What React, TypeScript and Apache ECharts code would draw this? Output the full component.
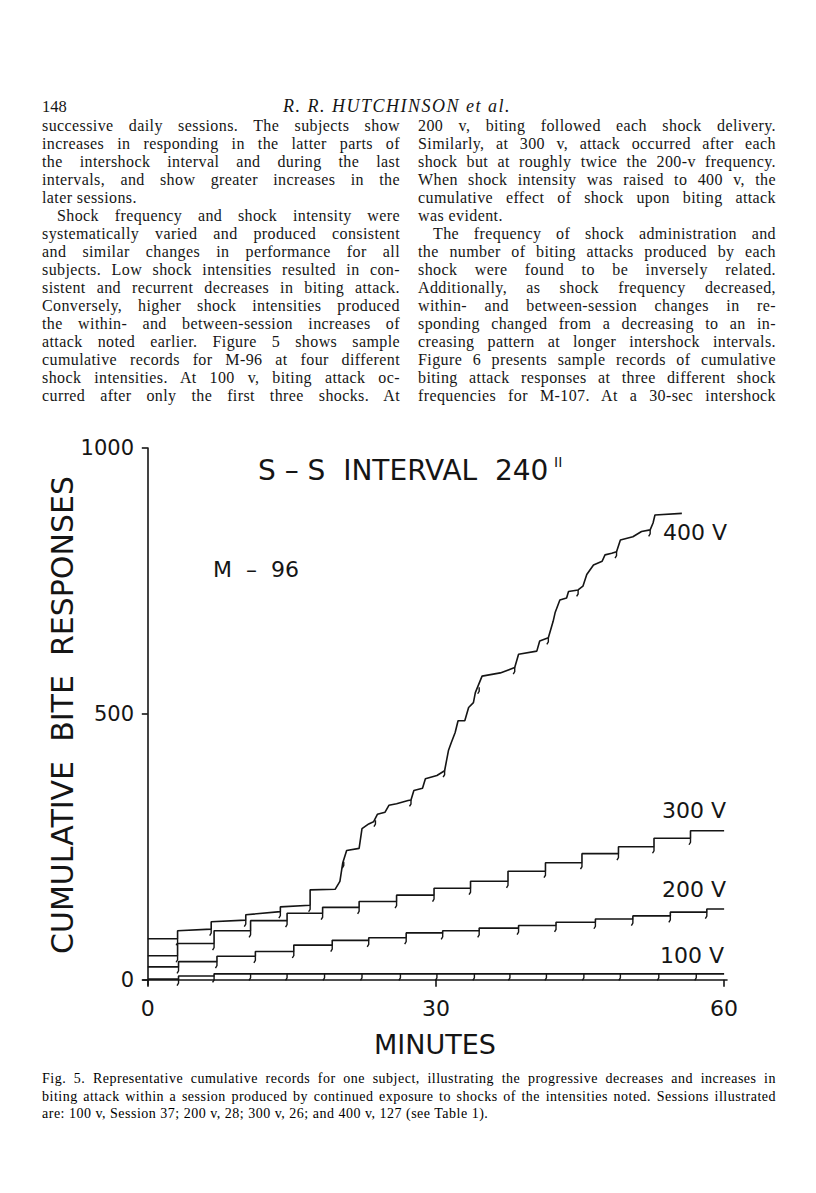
import React, { useEffect, useRef } from "react";
import * as echarts from "echarts";

// ---------- page text ----------
const PAGE_NUMBER = "148";
const RUNNING_HEAD = "R. R. HUTCHINSON et al.";
const LEFT_COL = [
  "successive daily sessions. The subjects show",
  "increases in responding in the latter parts of",
  "the intershock interval and during the last",
  "intervals, and show greater increases in the",
  "later sessions.",
  "Shock frequency and shock intensity were",
  "systematically varied and produced consistent",
  "and similar changes in performance for all",
  "subjects. Low shock intensities resulted in con-",
  "sistent and recurrent decreases in biting attack.",
  "Conversely, higher shock intensities produced",
  "the within- and between-session increases of",
  "attack noted earlier. Figure 5 shows sample",
  "cumulative records for M-96 at four different",
  "shock intensities. At 100 v, biting attack oc-",
  "curred after only the first three shocks. At",
];
const LEFT_INDENT = [5];
const LEFT_LAST = [4];
const RIGHT_COL = [
  "200 v, biting followed each shock delivery.",
  "Similarly, at 300 v, attack occurred after each",
  "shock but at roughly twice the 200-v frequency.",
  "When shock intensity was raised to 400 v, the",
  "cumulative effect of shock upon biting attack",
  "was evident.",
  "The frequency of shock administration and",
  "the number of biting attacks produced by each",
  "shock were found to be inversely related.",
  "Additionally, as shock frequency decreased,",
  "within- and between-session changes in re-",
  "sponding changed from a decreasing to an in-",
  "creasing pattern at longer intershock intervals.",
  "Figure 6 presents sample records of cumulative",
  "biting attack responses at three different shock",
  "frequencies for M-107. At a 30-sec intershock",
];
const RIGHT_INDENT = [6];
const RIGHT_LAST = [5];
const CAPTION = [
  "Fig. 5. Representative cumulative records for one subject, illustrating the progressive decreases and increases in",
  "biting attack within a session produced by continued exposure to shocks of the intensities noted. Sessions illustrated",
  "are: 100 v, Session 37; 200 v, 28; 300 v, 26; and 400 v, 127 (see Table 1).",
];

// ---------- chart texts ----------
const CHART_TITLE = "S – S  INTERVAL  240";
const CHART_TITLE_MARK = "II";
const SUBJECT = "M  –  96";
const X_NAME = "MINUTES";
const Y_NAME = "CUMULATIVE  BITE  RESPONSES";
const MINUTE_TICKS = [0, 30, 60];
const RESPONSE_TICKS = [0, 500, 1000];
const SERIES_NAMES = ["100 V", "200 V", "300 V", "400 V"];

// ---------- data (minutes, cumulative responses) ----------
const V100_START = 1;
const V100_SHOCKS = [3.2, 6.9, 10.7, 14.5, 18.4, 22.3, 26.3, 30.1, 34.0, 37.7, 41.5, 45.4, 49.2, 53.2, 57.1];
const V100_LEVELS = [7, 11, 11, 11, 11, 11, 11, 11, 11, 11, 11, 11, 11, 11, 11];
const V100_END = 60;

const V200_START = 24;
const V200_SHOCKS = [3.2, 7.2, 11.2, 15.2, 19.2, 23.0, 26.9, 30.7, 34.5, 38.6, 42.5, 46.6, 50.5, 54.4, 58.2];
const V200_LEVELS = [34, 44, 53, 65, 74, 79, 88, 92, 97, 102, 108, 114, 120, 127, 133];
const V200_END = 60;

const V300_START = 45;
const V300_SHOCKS = [3.1, 6.9, 10.7, 14.5, 18.2, 22.0, 25.9, 29.8, 33.6, 37.5, 41.4, 45.2, 49.0, 52.7, 56.5];
const V300_LEVELS = [68, 92, 111, 125, 136, 147, 159, 172, 185, 204, 220, 237, 250, 266, 280];
const V300_END = 60;

const V400_PATH = [
  [0, 77], [3.1, 77], [3.1, 92], [6.6, 95], [6.6, 109], [10.2, 112], [10.2, 122],
  [13.8, 128], [13.8, 137], [16.9, 140], [16.9, 169], [19.5, 170], [20.0, 185],
  [20.3, 220], [20.7, 243], [22.0, 247], [22.3, 284], [23.0, 293], [23.5, 297],
  [23.9, 311], [24.7, 315], [25.1, 328], [25.9, 331], [27.1, 337], [27.4, 338],
  [27.7, 356], [28.6, 360], [28.9, 378], [30.1, 384], [30.9, 393], [31.1, 412],
  [31.3, 431], [31.6, 446], [32.0, 465], [32.3, 487], [33.0, 487], [33.4, 512],
  [33.9, 521], [34.1, 540], [34.8, 571], [36.7, 577], [38.2, 587], [38.6, 612],
  [40.5, 618], [40.8, 637], [41.7, 643], [42.2, 674], [42.4, 690], [42.9, 714],
  [43.6, 718], [43.8, 730], [44.8, 733], [45.3, 740], [45.7, 762], [46.4, 780],
  [47.3, 787], [47.6, 799], [48.3, 802], [48.8, 805], [49.2, 827], [50.5, 833],
  [51.4, 843], [52.3, 846], [52.6, 859], [52.8, 874], [55.6, 877],
];
const V400_HOOKS = [
  [3.1, 77], [6.6, 95], [10.2, 112], [13.8, 128], [16.9, 140], [20.4, 222],
  [23.7, 300], [27.4, 338], [30.9, 393], [34.5, 550], [38.2, 587], [41.7, 643],
  [44.8, 733], [48.8, 805], [52.3, 846],
];

function stepPath(start: number, shocks: number[], levels: number[], end: number) {
  const pts: number[][] = [[0, start]];
  let cur = start;
  shocks.forEach((t, i) => {
    pts.push([t, cur]);
    cur = levels[i];
    pts.push([t, cur]);
  });
  pts.push([end, cur]);
  return pts;
}
function stepHooks(start: number, shocks: number[], levels: number[]) {
  return shocks.map((t, i) => [t, i === 0 ? start : levels[i - 1]]);
}

const INK = "#151515";
const SANS = '"DejaVu Sans", sans-serif';
const SERIF = '"Liberation Serif", serif';

function Chart() {
  const ref = useRef<HTMLDivElement>(null);
  useEffect(() => {
    if (!ref.current) return;
    const chart = echarts.init(ref.current, null, { renderer: "svg" });
    const paths = [
      stepPath(V100_START, V100_SHOCKS, V100_LEVELS, V100_END),
      stepPath(V200_START, V200_SHOCKS, V200_LEVELS, V200_END),
      stepPath(V300_START, V300_SHOCKS, V300_LEVELS, V300_END),
      V400_PATH,
    ];
    const hooks = [
      ...stepHooks(V100_START, V100_SHOCKS, V100_LEVELS),
      ...stepHooks(V200_START, V200_SHOCKS, V200_LEVELS),
      ...stepHooks(V300_START, V300_SHOCKS, V300_LEVELS),
      ...V400_HOOKS,
    ];
    const lineSeries = paths.map((p, i) => ({
      type: "line",
      name: SERIES_NAMES[i],
      data: p,
      symbol: "none",
      clip: false,
      silent: true,
      lineStyle: { color: INK, width: 1.6 },
    }));
    chart.setOption({
      animation: false,
      backgroundColor: "transparent",
      grid: { left: 143, right: 89, top: 448, bottom: 208, containLabel: false },
      xAxis: {
        type: "value",
        min: -0.5,
        max: 60.3,
        offset: 4,
        axisLine: { show: true, lineStyle: { color: INK, width: 1.6 } },
        axisTick: { show: true, length: 7, customValues: MINUTE_TICKS, lineStyle: { color: INK, width: 1.6 } },
        axisLabel: { customValues: MINUTE_TICKS, fontSize: 22, fontFamily: SANS, color: INK, margin: 8 },
        splitLine: { show: false },
        name: X_NAME,
        nameLocation: "middle",
        nameGap: 42,
        nameTextStyle: { fontSize: 27, fontFamily: SANS, color: INK },
      },
      yAxis: {
        type: "value",
        min: -10,
        max: 1000,
        axisLine: { show: true, lineStyle: { color: INK, width: 1.6 } },
        axisTick: { show: true, length: 6, customValues: RESPONSE_TICKS, lineStyle: { color: INK, width: 1.6 } },
        axisLabel: {
          customValues: RESPONSE_TICKS,
          fontSize: 21,
          fontFamily: SANS,
          color: INK,
          margin: 9,
          formatter: (v: number) => String(v),
        },
        splitLine: { show: false },
      },
      series: [
        ...lineSeries,
        {
          type: "custom",
          name: "shocks",
          data: hooks,
          clip: false,
          silent: true,
          renderItem: (_p: any, api: any) => {
            const c = api.coord([api.value(0), api.value(1)]);
            return {
              type: "polyline",
              shape: { points: [[c[0], c[1]], [c[0], c[1] + 4], [c[0] - 1.5, c[1] + 6.5]] },
              style: { stroke: INK, lineWidth: 1.4, fill: null },
            };
          },
        },
      ],
      graphic: [
        { type: "text", x: 258, y: 470, style: { text: CHART_TITLE, fontSize: 28, fontFamily: SANS, fill: INK, verticalAlign: "middle" } },
        { type: "text", x: 554, y: 462, style: { text: CHART_TITLE_MARK, fontSize: 14, fontFamily: SANS, fill: INK, verticalAlign: "middle" } },
        { type: "text", x: 213, y: 569, style: { text: SUBJECT, fontSize: 22, fontFamily: SANS, fill: INK, verticalAlign: "middle" } },
        { type: "text", x: 663, y: 532, style: { text: SERIES_NAMES[3], fontSize: 22, fontFamily: SANS, fill: INK, verticalAlign: "middle" } },
        { type: "text", x: 662, y: 810, style: { text: SERIES_NAMES[2], fontSize: 22, fontFamily: SANS, fill: INK, verticalAlign: "middle" } },
        { type: "text", x: 662, y: 889, style: { text: SERIES_NAMES[1], fontSize: 22, fontFamily: SANS, fill: INK, verticalAlign: "middle" } },
        { type: "text", x: 660, y: 955, style: { text: SERIES_NAMES[0], fontSize: 22, fontFamily: SANS, fill: INK, verticalAlign: "middle" } },
        {
          type: "text",
          x: 62,
          y: 715,
          rotation: Math.PI / 2,
          style: { text: Y_NAME, fontSize: 30, fontFamily: SANS, fill: INK, align: "center", verticalAlign: "middle" },
        },
      ],
    });
    return () => chart.dispose();
  }, []);
  return <div ref={ref} style={{ position: "absolute", left: 0, top: 0, width: 816, height: 1193 }} />;
}

function Column({ lines, left, indent, last }: { lines: string[]; left: number; indent: number[]; last: number[] }) {
  return (
    <>
      {lines.map((s, i) => {
        const ind = indent.includes(i) ? 15 : 0;
        return (
          <div
            key={i}
            style={{
              position: "absolute",
              left: left + ind,
              top: 117 + i * 18,
              width: 358 - ind,
              fontFamily: SERIF,
              fontSize: 16,
              letterSpacing: "0.4px",
              lineHeight: "18px",
              color: INK,
              whiteSpace: "nowrap",
              textAlign: "justify",
              textAlignLast: last.includes(i) ? "left" : "justify",
            } as React.CSSProperties}
          >
            {s}
          </div>
        );
      })}
    </>
  );
}

export default function App() {
  return (
    <div style={{ position: "absolute", left: 0, top: 0, width: 816, height: 1193, background: "#fff", overflow: "hidden" }}>
      <Chart />
      <div style={{ position: "absolute", left: 42, top: 98, fontFamily: SERIF, fontSize: 16.5, lineHeight: "18px", color: INK }}>
        {PAGE_NUMBER}
      </div>
      <div
        style={{
          position: "absolute",
          left: 283,
          top: 97,
          fontFamily: SERIF,
          fontSize: 18,
          letterSpacing: "1.5px",
          fontStyle: "italic",
          lineHeight: "18px",
          color: INK,
          whiteSpace: "nowrap",
        }}
      >
        {RUNNING_HEAD}
      </div>
      <Column lines={LEFT_COL} left={42} indent={LEFT_INDENT} last={LEFT_LAST} />
      <Column lines={RIGHT_COL} left={418} indent={RIGHT_INDENT} last={RIGHT_LAST} />
      {CAPTION.map((s, i) => (
        <div
          key={i}
          style={{
            position: "absolute",
            left: 42,
            top: 1070 + i * 17.5,
            width: 734,
            fontFamily: SERIF,
            fontSize: 14,
            letterSpacing: "0.5px",
            lineHeight: "17.5px",
            color: "#000",
            whiteSpace: "nowrap",
            textAlign: "justify",
            textAlignLast: i === CAPTION.length - 1 ? "left" : "justify",
          } as React.CSSProperties}
        >
          {s}
        </div>
      ))}
    </div>
  );
}
